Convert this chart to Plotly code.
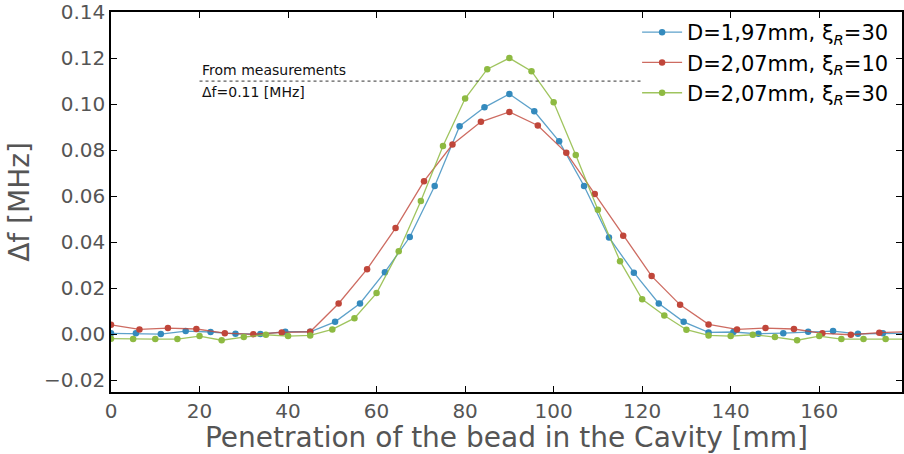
import plotly.graph_objects as go

# ---- data ----
blue_step = 180 / 32
blue_x = [k * blue_step for k in range(33)]
blue_y = [0.0003, 0.0003, 0.0000, 0.0013, 0.0009, 0.0001, 0.0000, 0.0010, 0.0010,
          0.0053, 0.0133, 0.0269, 0.0422, 0.0644, 0.0904, 0.0986, 0.1044, 0.0969,
          0.0838, 0.0644, 0.0420, 0.0267, 0.0133, 0.0053, 0.0007, 0.0009, 0.0001,
          0.0004, 0.0010, 0.0013, 0.0001, 0.0003, 0.0003]

red_step = 180 / 28
red_x = [k * red_step for k in range(29)]
red_y = [0.0040, 0.0020, 0.0026, 0.0022, 0.0004, -0.0001, 0.0007, 0.0010, 0.0133,
         0.0282, 0.0461, 0.0665, 0.0824, 0.0923, 0.0966, 0.0907, 0.0788, 0.0609,
         0.0428, 0.0252, 0.0127, 0.0042, 0.0020, 0.0026, 0.0022, 0.0003, -0.0003,
         0.0006, 0.0010]

green_x = [k * 5 for k in range(37)]
green_y = [-0.0020, -0.0022, -0.0022, -0.0022, -0.0009, -0.0027, -0.0013, -0.0003, -0.0009,
           -0.0006, 0.0020, 0.0069, 0.0178, 0.0360, 0.0579, 0.0818, 0.1024, 0.1152,
           0.1200, 0.1143, 0.1008, 0.0779, 0.0541, 0.0317, 0.0151, 0.0081, 0.0019,
           -0.0006, -0.0009, -0.0003, -0.0013, -0.0027, -0.0009, -0.0022, -0.0022, -0.0022,
           -0.0022]

series_names = ["D=1,97mm, ξ<sub><i>R</i></sub>=30",
                "D=2,07mm, ξ<sub><i>R</i></sub>=10",
                "D=2,07mm, ξ<sub><i>R</i></sub>=30"]

meas_x = [20, 120]
meas_value = 0.11
meas_label_top = "From measurements"
meas_label_bottom = "Δf=0.11 [MHz]"

x_ticks = [0, 20, 40, 60, 80, 100, 120, 140, 160]
y_ticks = [-0.02, 0.00, 0.02, 0.04, 0.06, 0.08, 0.10, 0.12, 0.14]

x_title = "Penetration of the bead in the Cavity [mm]"
y_title = "Δf [MHz]"

# ---- styles ----
colors = ["#348ABD", "#C0463A", "#8EBA42"]
line_colors = ["rgba(52,138,189,0.8)", "rgba(192,70,58,0.8)", "rgba(142,186,66,0.85)"]
FONT = "DejaVu Sans, Liberation Sans, sans-serif"

fig = go.Figure()

for i, (xs, ys, name, c, lc) in enumerate(zip([blue_x, red_x, green_x], [blue_y, red_y, green_y],
                                              series_names, colors, line_colors)):
    fig.add_trace(go.Scatter(
        x=xs, y=ys, name=name, mode="lines+markers", legendgroup=f"g{i}",
        line=dict(color=lc, width=1.3),
        marker=dict(color=c, size=6.5, symbol="circle"),
    ))

fig.add_trace(go.Scatter(
    x=meas_x, y=[meas_value, meas_value], mode="lines", showlegend=False,
    line=dict(color="#333333", width=1, dash="dot"), hoverinfo="skip",
))

fig.add_annotation(x=meas_x[0], y=meas_value, text=meas_label_top, showarrow=False,
                   xanchor="left", yanchor="bottom", yshift=1,
                   font=dict(family=FONT, size=14, color="#111111"))
fig.add_annotation(x=meas_x[0], y=meas_value, text=meas_label_bottom, showarrow=False,
                   xanchor="left", yanchor="top", yshift=-1,
                   font=dict(family=FONT, size=14, color="#111111"))

axis_common = dict(
    showgrid=False, zeroline=False, showline=True, linecolor="#000000", linewidth=1.6,
    ticks="inside", ticklen=6, tickwidth=1, tickcolor="#000000", mirror="allticks",
    tickfont=dict(family=FONT, size=20, color="#555555"),
    ticklabeloverflow="allow",
)

fig.update_layout(
    width=904, height=454,
    margin=dict(l=111, r=0, t=10, b=62),
    paper_bgcolor="white", plot_bgcolor="white",
    font=dict(family=FONT),
    xaxis=dict(range=[0, 178.7], tickvals=x_ticks, ticktext=[str(v) for v in x_ticks],
               title=dict(text=x_title, font=dict(family=FONT, size=28, color="#555555"),
                          standoff=2),
               **axis_common),
    yaxis=dict(range=[-0.0252, 0.14005], tickvals=y_ticks, tickformat=".2f",
               title=dict(text=y_title, font=dict(family=FONT, size=28, color="#555555"),
                          standoff=6),
               **axis_common),
    legend=dict(x=0.99, y=1.0, xanchor="right", yanchor="top",
                bgcolor="rgba(0,0,0,0)", borderwidth=0,
                font=dict(family=FONT, size=21, color="#000000"),
                itemwidth=40, tracegroupgap=0),
    showlegend=True,
)

fig.write_html("out.html")
